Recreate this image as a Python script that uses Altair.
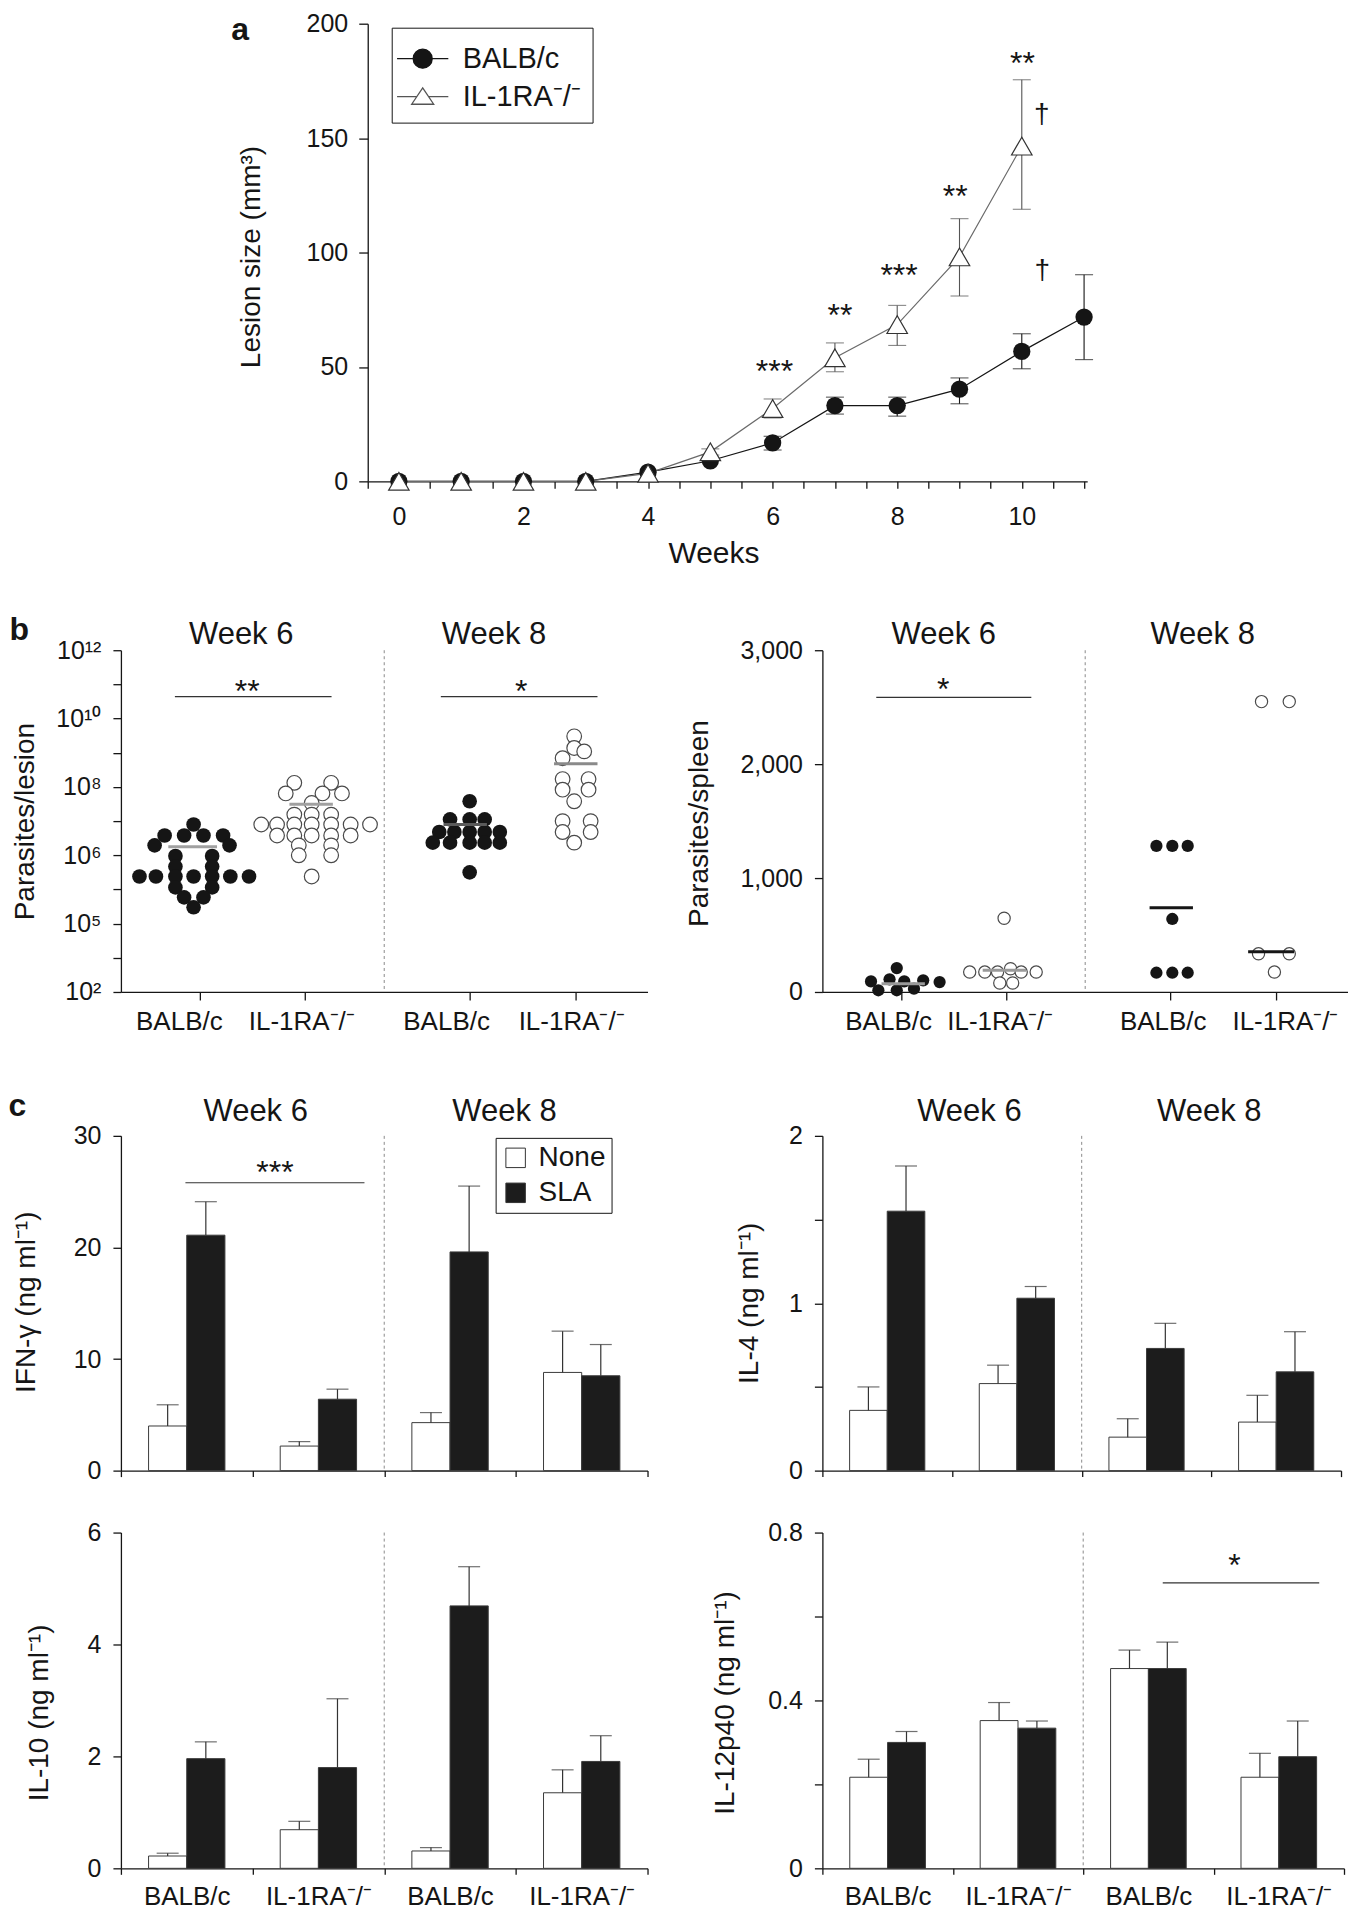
import json
import altair as alt
import pandas as pd

FONT = "Liberation Sans"
INK = "#151515"
GREY_LINE = "#6a6a6a"
OPEN_EDGE = "#4a4a4a"
BAR_FILL = "#1c1c1c"
SEP_COLOR = "#8a8a8a"
TITLE_FS = 28
HEAD_FS = 31
CAT_FS = 26

SERIES = ["BALB/c", "IL-1RA⁻/⁻"]
GROUP_LABELS = ["BALB/c", "IL-1RA⁻/⁻", "BALB/c", "IL-1RA⁻/⁻"]
WEEK_HEADERS = ["Week 6", "Week 8"]
CONDITIONS = ["None", "SLA"]


def js(v):
    return json.dumps(v, ensure_ascii=False)


# ------------------------------------------------------------------ panel a data
a_weeks_balb = [0, 1, 2, 3, 4, 5, 6, 7, 8, 9, 10, 11]
a_size_balb = [0, 0, 0, 0, 4.0, 9.0, 16.8, 33.1, 33.1, 40.3, 56.8, 71.8]
a_weeks_il = [0, 1, 2, 3, 4, 5, 6, 7, 8, 9, 10]
a_size_il = [0, 0, 0, 0, 3.5, 12.9, 31.8, 54.0, 68.5, 98.1, 146.5]
a_err_weeks_balb = [6, 7, 8, 9, 10, 11]
a_err_lo_balb = [13.7, 29.4, 28.5, 33.9, 49.2, 53.2]
a_err_hi_balb = [19.7, 36.8, 36.8, 45.2, 64.5, 90.3]
a_err_weeks_il = [5, 6, 7, 8, 9, 10]
a_err_lo_il = [11.5, 27.7, 47.9, 59.4, 81.0, 118.9]
a_err_hi_il = [14.2, 36.0, 60.5, 76.9, 114.8, 175.5]
a_star_week = [6.03, 7.08, 8.03, 8.93, 10.01]
a_star_val = [50.8, 75.5, 92.7, 127.4, 185.5]
a_star_text = ["***", "**", "***", "**", "**"]
a_dag_week = [10.32, 10.33]
a_dag_val = [160.0, 92.0]
a_dag_text = ["†", "†"]
a_x_ticks = [i / 2 for i in range(-1, 23)]
a_y_ticks = [0, 50, 100, 150, 200]

# ------------------------------------------------------------------ panel b data (lesion, log10)
bl_filled_x = [0.552, 0.332, 0.480, 0.627, 0.776, 0.256, 0.825, 0.414, 0.693, 0.414, 0.693,
               0.141, 0.266, 0.414, 0.552, 0.693, 0.831, 0.973, 0.414, 0.693, 0.480, 0.627, 0.552,
               2.649, 2.500, 2.649, 2.763, 2.418, 2.533, 2.649, 2.763, 2.878,
               2.369, 2.500, 2.649, 2.763, 2.878, 2.649]
bl_filled_log = [6.90, 6.58, 6.58, 6.58, 6.58, 6.29, 6.29, 5.98, 5.98, 5.67, 5.67,
                 5.38, 5.38, 5.38, 5.38, 5.38, 5.38, 5.38, 5.06, 5.06, 4.77, 4.77, 4.48,
                 7.58, 7.05, 7.05, 7.05, 6.68, 6.68, 6.68, 6.68, 6.68,
                 6.37, 6.37, 6.37, 6.37, 6.37, 5.50]
bl_open_x = [1.317, 1.597, 1.252, 1.531, 1.679, 1.449, 1.317, 1.449, 1.597,
             1.066, 1.186, 1.317, 1.449, 1.597, 1.745, 1.892,
             1.186, 1.317, 1.449, 1.597, 1.745, 1.351, 1.597, 1.351, 1.597, 1.449,
             3.443, 3.443, 3.519, 3.355, 3.355, 3.552, 3.355, 3.552, 3.443,
             3.355, 3.568, 3.355, 3.568, 3.443]
bl_open_log = [8.12, 8.12, 7.81, 7.81, 7.81, 7.53, 7.19, 7.19, 7.19,
               6.90, 6.90, 6.90, 6.90, 6.90, 6.90, 6.90,
               6.58, 6.58, 6.58, 6.58, 6.58, 6.29, 6.29, 6.00, 6.00, 5.38,
               9.48, 9.14, 9.04, 8.84, 8.23, 8.23, 7.92, 7.92, 7.58,
               7.00, 7.00, 6.68, 6.68, 6.37]
bl_mean_x0 = [0.36, 1.28, 2.45, 3.29]
bl_mean_x1 = [0.73, 1.61, 2.78, 3.62]
bl_mean_log = [6.25, 7.49, 6.90, 8.68]
bl_bracket_x0 = [0.41, 2.43]
bl_bracket_x1 = [1.60, 3.62]
bl_bracket_log = [10.64, 10.64]
bl_star_x = [0.96, 3.04]
bl_star_log = [10.98, 10.98]
bl_star_text = ["**", "*"]
bl_tick_vals = [2, 3, 4, 5, 6, 7, 8, 9, 10, 11, 12]
bl_tick_text = ["10²", "", "10⁵", "", "10⁶", "", "10⁸", "", "10¹⁰", "", "10¹²"]

# ------------------------------------------------------------------ panel b data (spleen)
br_filled_x = [0.566, 0.370, 0.511, 0.623, 0.767, 0.892, 0.426, 0.566, 0.697,
               2.542, 2.663, 2.780, 2.663, 2.542, 2.663, 2.780]
br_filled_v = [210, 93, 111, 93, 102, 87, 15, 15, 29,
               1282, 1282, 1282, 641, 169, 169, 169]
br_open_x = [1.383, 1.121, 1.236, 1.333, 1.432, 1.513, 1.627, 1.350, 1.448,
             3.342, 3.553, 3.319, 3.553, 3.440]
br_open_v = [647, 175, 175, 175, 204, 175, 175, 79, 79,
             2549, 2549, 335, 335, 175]
br_mean_x0 = [0.45, 1.22, 2.49, 3.24]
br_mean_x1 = [0.78, 1.55, 2.82, 3.59]
br_mean_v = [73, 190, 740, 354]
br_bracket_x0 = [0.41]
br_bracket_x1 = [1.59]
br_bracket_v = [2587]
br_star_x = [0.92]
br_star_v = [2715]
br_star_text = ["*"]
br_tick_vals = [0, 1000, 2000, 3000]

b_group_ticks = [0.6, 1.4, 2.65, 3.45]
bl_label_pos = [0.44, 1.37, 2.47, 3.42]
br_label_pos = [0.50, 1.35, 2.59, 3.52]
bl_headers = [0.91, 2.83]
br_headers = [0.92, 2.89]
b_separator = [2.0]

# ------------------------------------------------------------------ panel c data
ifn_none = [4.0, 2.2, 4.3, 8.8]
ifn_none_up = [5.9, 2.6, 5.2, 12.5]
ifn_sla = [21.1, 6.4, 19.6, 8.5]
ifn_sla_up = [24.1, 7.3, 25.5, 11.3]

il4_none = [0.36, 0.52, 0.20, 0.29]
il4_none_up = [0.50, 0.63, 0.31, 0.45]
il4_sla = [1.55, 1.03, 0.73, 0.59]
il4_sla_up = [1.82, 1.10, 0.88, 0.83]

il10_none = [0.22, 0.69, 0.31, 1.35]
il10_none_up = [0.27, 0.84, 0.37, 1.76]
il10_sla = [1.96, 1.80, 4.69, 1.91]
il10_sla_up = [2.26, 3.03, 5.39, 2.37]

il12_none = [0.217, 0.352, 0.476, 0.217]
il12_none_up = [0.260, 0.395, 0.520, 0.274]
il12_sla = [0.300, 0.334, 0.476, 0.266]
il12_sla_up = [0.326, 0.351, 0.539, 0.351]

ifn_bracket = {"x0": [0.49], "x1": [1.85], "v": [25.8], "sx": [1.17], "sv": [27.3], "t": ["***"]}
il12_bracket = {"x0": [2.61], "x1": [3.81], "v": [0.680], "sx": [3.16], "sv": [0.737], "t": ["*"]}
ifn_headers = [1.02, 2.91]
il4_headers = [1.13, 2.98]
c_separator = [2.0]
c_group_edges = [0, 1, 2, 3, 4]
c_group_centers = [0.5, 1.5, 2.5, 3.5]

# bar layout inside a group (fractions of one group)
BAR_START = {"None": 0.21, "SLA": 0.50}
BAR_W = 0.29


# ================================================================== helpers
def left_y_axis(title, values, title_x, title_y, label_expr=None, fmt=None):
    kw = dict(values=values, title=title, tickSize=8, labelPadding=12,
              titleX=title_x, titleY=title_y, titleAngle=270, titleBaseline="middle",
              titleAlign="center", titleFontSize=TITLE_FS, grid=False)
    if label_expr is not None:
        kw["labelExpr"] = label_expr
    if fmt is not None:
        kw["format"] = fmt
    return alt.Axis(**kw)


def tick_axis(values, size):
    return alt.Axis(values=values, labels=False, title=None, tickSize=size, grid=False)


def label_axis(positions, pad):
    # category names under the x axis (no ticks / domain of its own)
    return alt.Axis(orient="bottom", values=positions,
                    labelExpr=f"{js(GROUP_LABELS)}[indexof({js(positions)}, datum.value)]",
                    ticks=False, tickSize=0, domain=False, labelPadding=pad,
                    labelBaseline="alphabetic", labelFontSize=CAT_FS, title=None, grid=False)


def letter_kw(letter, tx, ty):
    # panel letter drawn as the title of a top axis, placed relative to the plot corner
    return dict(title=letter, titleX=tx, titleY=ty, titleAngle=0, titleAlign="left",
                titleBaseline="alphabetic", titleFontSize=32, titleFontWeight="bold")


def header_axis(positions, pad, letter=None):
    kw = dict(orient="top", values=positions,
              labelExpr=f"{js(WEEK_HEADERS)}[indexof({js(positions)}, datum.value)]",
              ticks=False, tickSize=0, domain=False, labelPadding=pad,
              labelBaseline="alphabetic", labelFontSize=HEAD_FS, grid=False)
    if letter is not None:
        kw.update(letter_kw(*letter))
    else:
        kw["title"] = None
    return alt.Axis(**kw)


def separator_layer(sx, positions, head_axis):
    df = pd.DataFrame({"x": positions})
    return alt.Chart(df).mark_rule(strokeDash=[3, 3], color=SEP_COLOR, strokeWidth=1).encode(
        x=alt.X("x:Q", scale=sx, axis=head_axis))


def dot_panel(filled_x, filled_v, open_x, open_v, m_x0, m_x1, m_v, m_colors,
              br_x0, br_x1, br_v, st_x, st_v, st_t, headers, label_pos, sy, y_axis, dot_size,
              width, height, letter=None):
    sx = alt.Scale(domain=[0, 4], nice=False, zero=False)
    df_f = pd.DataFrame({"x": filled_x, "v": filled_v})
    df_o = pd.DataFrame({"x": open_x, "v": open_v})
    df_m = pd.DataFrame({"x0": m_x0, "x1": m_x1, "v": m_v, "col": m_colors})
    df_b = pd.DataFrame({"x0": br_x0, "x1": br_x1, "v": br_v})
    df_s = pd.DataFrame({"x": st_x, "v": st_v, "t": st_t})
    Xn = alt.X("x:Q", scale=sx, axis=None)
    Yn = alt.Y("v:Q", scale=sy, axis=None)
    filled = alt.Chart(df_f).mark_point(shape="circle", filled=True, size=dot_size, color=INK,
                                        opacity=1).encode(
        x=alt.X("x:Q", scale=sx, axis=tick_axis(b_group_ticks, 8)),
        y=alt.Y("v:Q", scale=sy, axis=y_axis))
    opened = alt.Chart(df_o).mark_point(shape="circle", filled=True, fill="white", stroke=OPEN_EDGE,
                                        strokeWidth=1.2, size=dot_size, opacity=1).encode(
        x=alt.X("x:Q", scale=sx, axis=label_axis(label_pos, 38)), y=Yn)
    means = alt.Chart(df_m).mark_rule(strokeWidth=3).encode(
        x=alt.X("x0:Q", scale=sx, axis=None), x2="x1:Q", y=Yn,
        color=alt.Color("col:N", scale=None))
    bracket = alt.Chart(df_b).mark_rule(color="#333333", strokeWidth=1.2).encode(
        x=alt.X("x0:Q", scale=sx, axis=None), x2="x1:Q", y=Yn)
    stars = alt.Chart(df_s).mark_text(fontSize=32, baseline="middle", dy=7, color=INK).encode(
        x=Xn, y=Yn, text="t:N")
    sep = separator_layer(sx, b_separator, header_axis(headers, 7, letter))
    ch = alt.layer(filled, opened, means, bracket, stars, sep).resolve_axis(
        x="independent", y="independent")
    return ch.properties(width=width, height=height)


def bar_panel(none_m, none_u, sla_m, sla_u, sy, y_axis, headers, show_labels, legend,
              bracket, width, height, letter=None):
    rows = []
    for g in range(4):
        rows.append({"g": g, "cond": CONDITIONS[0], "m": none_m[g], "u": none_u[g]})
        rows.append({"g": g, "cond": CONDITIONS[1], "m": sla_m[g], "u": sla_u[g]})
    df = pd.DataFrame(rows)
    sx = alt.Scale(domain=[0, 4], nice=False, zero=False)
    base = alt.Chart(df).transform_calculate(
        x0=f"datum.g + (datum.cond == 'None' ? {BAR_START['None']} : {BAR_START['SLA']})",
        x1=f"datum.x0 + {BAR_W}",
        xc=f"datum.x0 + {BAR_W / 2}",
        zero="0",
    )
    fill_kw = dict(scale=alt.Scale(domain=CONDITIONS, range=["white", BAR_FILL]))
    fill_kw["legend"] = legend
    bars = base.mark_bar(stroke="#3a3a3a", strokeWidth=1).encode(
        x=alt.X("x0:Q", scale=sx, axis=tick_axis(c_group_edges, 6)), x2="x1:Q",
        y=alt.Y("m:Q", scale=sy, axis=y_axis), y2="zero:Q",
        fill=alt.Fill("cond:N", **fill_kw))
    err_x_axis = label_axis(c_group_centers, 36) if show_labels else None
    err = base.mark_rule(color="#333333", strokeWidth=1.2).encode(
        x=alt.X("xc:Q", scale=sx, axis=err_x_axis), y=alt.Y("m:Q", scale=sy, axis=None), y2="u:Q")
    cap = base.mark_tick(orient="horizontal", size=22, thickness=1.2, color="#333333").encode(
        x=alt.X("xc:Q", scale=sx, axis=None), y=alt.Y("u:Q", scale=sy, axis=None))
    layers = [bars, err, cap]
    if bracket is not None:
        dfb = pd.DataFrame({"x0": bracket["x0"], "x1": bracket["x1"], "v": bracket["v"]})
        dfs = pd.DataFrame({"x": bracket["sx"], "v": bracket["sv"], "t": bracket["t"]})
        layers.append(alt.Chart(dfb).mark_rule(color="#333333", strokeWidth=1.2).encode(
            x=alt.X("x0:Q", scale=sx, axis=None), x2="x1:Q",
            y=alt.Y("v:Q", scale=sy, axis=None)))
        layers.append(alt.Chart(dfs).mark_text(fontSize=32, baseline="middle", dy=7, color=INK).encode(
            x=alt.X("x:Q", scale=sx, axis=None), y=alt.Y("v:Q", scale=sy, axis=None), text="t:N"))
    if headers is not None:
        layers.append(separator_layer(sx, c_separator, header_axis(headers, 15, letter)))
    else:
        layers.append(alt.Chart(pd.DataFrame({"x": c_separator})).mark_rule(
            strokeDash=[3, 3], color=SEP_COLOR, strokeWidth=1).encode(
            x=alt.X("x:Q", scale=sx, axis=None)))
    ch = alt.layer(*layers).resolve_axis(x="independent", y="independent")
    return ch.properties(width=width, height=height)


def spacer(w, h):
    unit = alt.Scale(domain=[0, 1], nice=False, zero=False)
    return alt.Chart(pd.DataFrame({"s": [0.5]})).mark_point(opacity=0, size=1).encode(
        x=alt.X("s:Q", scale=unit, axis=None), y=alt.Y("s:Q", scale=unit, axis=None)
    ).properties(width=w, height=h)


# ================================================================== panel a
LEFT_W = 527
A_SHIFT = 247          # panel a's y axis sits this far right of the left column
A_PLOT_W = 720

df_a = pd.DataFrame({
    "week": a_weeks_balb + a_weeks_il,
    "size": a_size_balb + a_size_il,
    "series": [SERIES[0]] * len(a_weeks_balb) + [SERIES[1]] * len(a_weeks_il),
})
df_a_err = pd.DataFrame({
    "week": a_err_weeks_balb + a_err_weeks_il,
    "lo": a_err_lo_balb + a_err_lo_il,
    "hi": a_err_hi_balb + a_err_hi_il,
    "series": [SERIES[0]] * len(a_err_weeks_balb) + [SERIES[1]] * len(a_err_weeks_il),
})
df_a_star = pd.DataFrame({"week": a_star_week, "val": a_star_val, "t": a_star_text})
df_a_dag = pd.DataFrame({"week": a_dag_week, "val": a_dag_val, "t": a_dag_text})

sx_a = alt.Scale(domain=[-0.5, 11.05], range=[A_SHIFT, A_SHIFT + A_PLOT_W], nice=False, zero=False)
sy_a = alt.Scale(domain=[0, 200], nice=False)
ax_a = alt.Axis(values=a_x_ticks, labelExpr="datum.value % 2 == 0 ? datum.value : ''",
                title="Weeks", tickSize=7, labelPadding=36, labelBaseline="alphabetic",
                titleFontSize=30, titleX=593, titleY=81, titleBaseline="alphabetic",
                titleAlign="center", grid=False)
ay_a = alt.Axis(values=a_y_ticks, title="Lesion size (mm³)", tickSize=9, labelPadding=11,
                offset=-A_SHIFT, titleX=-116, titleY=233, titleAngle=270, titleBaseline="middle",
                titleAlign="center", titleFontSize=TITLE_FS, grid=False)
ax_a_top = alt.Axis(orient="top", labels=False, ticks=False, domain=False, grid=False,
                    **letter_kw("a", 110, 16))

Xa_n = alt.X("week:Q", scale=sx_a, axis=None)
Ya_n = alt.Y("size:Q", scale=sy_a, axis=None)
is_balb = alt.datum.series == SERIES[0]
is_il = alt.datum.series == SERIES[1]


def a_errorbars(flt, color):
    src = alt.Chart(df_a_err).transform_filter(flt)
    rule = src.mark_rule(strokeWidth=1.1, color=color).encode(
        x=Xa_n, y=alt.Y("lo:Q", scale=sy_a, axis=None), y2="hi:Q")
    hi = src.mark_tick(orient="horizontal", size=18, thickness=1.1, color=color).encode(
        x=Xa_n, y=alt.Y("hi:Q", scale=sy_a, axis=None))
    lo = src.mark_tick(orient="horizontal", size=18, thickness=1.1, color=color).encode(
        x=Xa_n, y=alt.Y("lo:Q", scale=sy_a, axis=None))
    return [rule, hi, lo]


a_line_b = alt.Chart(df_a).transform_filter(is_balb).mark_line(color=INK, strokeWidth=1.2).encode(
    x=alt.X("week:Q", scale=sx_a, axis=ax_a), y=alt.Y("size:Q", scale=sy_a, axis=ay_a))
a_line_i = alt.Chart(df_a).transform_filter(is_il).mark_line(color=GREY_LINE, strokeWidth=1.2).encode(
    x=Xa_n, y=Ya_n)
a_pts_b = alt.Chart(df_a).transform_filter(is_balb).mark_point(
    shape="circle", filled=True, size=300, color=INK, opacity=1).encode(x=Xa_n, y=Ya_n)
a_pts_i = alt.Chart(df_a).transform_filter(is_il).mark_point(
    shape="triangle-up", filled=True, fill="white", stroke="#333333", strokeWidth=1.2,
    size=420, opacity=1).encode(x=Xa_n, y=Ya_n)
a_stars = alt.Chart(df_a_star).mark_text(fontSize=32, baseline="middle", dy=7, color=INK).encode(
    x=alt.X("week:Q", scale=sx_a, axis=ax_a_top), y=alt.Y("val:Q", scale=sy_a, axis=None), text="t:N")
a_dags = alt.Chart(df_a_dag).mark_text(fontSize=28, baseline="middle", dy=0, color=INK).encode(
    x=Xa_n, y=alt.Y("val:Q", scale=sy_a, axis=None), text="t:N")

path_balb = "M-1.35,0L-0.5,0M0.5,0L1.35,0M0.5,0A0.5,0.5,0,1,1,-0.5,0A0.5,0.5,0,1,1,0.5,0Z"
path_il = "M-1.35,0L-0.31,0M0.31,0L1.35,0M0,-0.46L0.58,0.4L-0.58,0.4Z"
leg_a = alt.Legend(orient="none", legendX=A_SHIFT + 24, legendY=4, title=None, strokeColor=INK,
                   fillColor="white", padding=11, rowPadding=3, labelOffset=20,
                   labelFontSize=29, labelFont=FONT, labelColor=INK, symbolSize=1444,
                   symbolStrokeWidth=1.3)
# legend-only layer (no rows drawn): line + marker symbols for the two series
a_legend = alt.Chart(pd.DataFrame({"series": SERIES})).transform_filter("false").mark_point(
    filled=True, opacity=1).encode(
    shape=alt.Shape("series:N", scale=alt.Scale(domain=SERIES, range=[path_balb, path_il]), legend=leg_a),
    fill=alt.Fill("series:N", scale=alt.Scale(domain=SERIES, range=[INK, "white"]), legend=leg_a),
    stroke=alt.Stroke("series:N", scale=alt.Scale(domain=SERIES, range=[INK, "#555555"]), legend=leg_a),
)

panel_a = alt.layer(
    a_line_b, a_line_i, *a_errorbars(is_balb, INK), *a_errorbars(is_il, "#555555"),
    a_pts_b, a_pts_i, a_stars, a_dags, a_legend
).resolve_axis(x="independent", y="independent").properties(width=LEFT_W, height=458)

# ================================================================== panel b
sy_bl = alt.Scale(domain=[2, 12], nice=False, zero=False)
ay_bl = left_y_axis("Parasites/lesion", bl_tick_vals, -95, 171,
                    label_expr=f"{js(bl_tick_text)}[datum.value - 2]")
b_left = dot_panel(bl_filled_x, bl_filled_log, bl_open_x, bl_open_log,
                   bl_mean_x0, bl_mean_x1, bl_mean_log, ["#a0a0a0", "#a0a0a0", "#5a5a5a", "#8a8a8a"],
                   bl_bracket_x0, bl_bracket_x1, bl_bracket_log, bl_star_x, bl_star_log, bl_star_text,
                   bl_headers, bl_label_pos, sy_bl, ay_bl, 215, LEFT_W, 342, letter=("b", -112, -11))

sy_br = alt.Scale(domain=[0, 3000], nice=False)
ay_br = left_y_axis("Parasites/spleen", br_tick_vals, -123, 173, fmt=",d")
b_right = dot_panel(br_filled_x, br_filled_v, br_open_x, br_open_v,
                    br_mean_x0, br_mean_x1, br_mean_v, ["#9a9a9a", "#9a9a9a", INK, INK],
                    br_bracket_x0, br_bracket_x1, br_bracket_v, br_star_x, br_star_v, br_star_text,
                    br_headers, br_label_pos, sy_br, ay_br, 150, 526, 342)

# ================================================================== panel c
leg_c = alt.Legend(orient="none", legendX=375, legendY=2, title=None, strokeColor=INK,
                   fillColor="white", padding=6, rowPadding=7, labelOffset=9,
                   labelFontSize=28, labelFont=FONT, labelColor=INK, symbolType="square",
                   symbolSize=380, symbolStrokeColor="#333333", symbolStrokeWidth=1)

ifn = bar_panel(ifn_none, ifn_none_up, ifn_sla, ifn_sla_up,
                alt.Scale(domain=[0, 30], nice=False),
                left_y_axis("IFN-γ (ng ml⁻¹)", [0, 10, 20, 30], -94, 166),
                ifn_headers, False, leg_c, ifn_bracket, LEFT_W, 335, letter=("c", -113, -20))
il4 = bar_panel(il4_none, il4_none_up, il4_sla, il4_sla_up,
                alt.Scale(domain=[0, 2], nice=False),
                left_y_axis("IL-4 (ng ml⁻¹)", [0, 0.5, 1, 1.5, 2], -73, 167,
                            label_expr="datum.value % 1 == 0 ? datum.value : ''"),
                il4_headers, False, None, None, 519, 335)
il10 = bar_panel(il10_none, il10_none_up, il10_sla, il10_sla_up,
                 alt.Scale(domain=[0, 6], nice=False),
                 left_y_axis("IL-10 (ng ml⁻¹)", [0, 2, 4, 6], -81, 180),
                 None, True, None, None, LEFT_W, 336)
il12 = bar_panel(il12_none, il12_none_up, il12_sla, il12_sla_up,
                 alt.Scale(domain=[0, 0.8], nice=False),
                 left_y_axis("IL-12p40 (ng ml⁻¹)", [0, 0.2, 0.4, 0.6, 0.8], -97, 170,
                             label_expr="indexof([0, 0.4, 0.8], datum.value) >= 0 ? datum.value : ''"),
                 None, True, None, il12_bracket, 522, 336)

# ================================================================== layout (2-column grid)
COL_GAP = 175
ROW_GAP = 62
cells = [
    panel_a, spacer(10, 458),
    spacer(10, 45), spacer(10, 45),
    b_left, b_right,
    spacer(10, 20), spacer(10, 20),
    ifn, il4,
    il10, il12,
]
chart = alt.concat(*cells, columns=2, spacing={"row": ROW_GAP, "column": COL_GAP},
                   bounds="flush", align={"row": "each", "column": "all"}).resolve_scale(
    fill="independent", stroke="independent", shape="independent"
).resolve_legend(
    fill="independent", stroke="independent", shape="independent"
).properties(padding={"left": 0, "top": 3, "right": 0, "bottom": 0})

chart = chart.configure(font=FONT).configure_view(strokeWidth=0).configure_axis(
    domainColor=INK, domainWidth=1.3, tickColor=INK, tickWidth=1.3,
    labelColor=INK, titleColor=INK, labelFont=FONT, titleFont=FONT,
    labelFontSize=25, titleFontSize=TITLE_FS, titleFontWeight="normal",
    labelOverlap=False, labelFlush=False, grid=False,
).configure_legend(labelFont=FONT)

chart.save("out.html", embed_options={"renderer": "svg", "actions": False})
